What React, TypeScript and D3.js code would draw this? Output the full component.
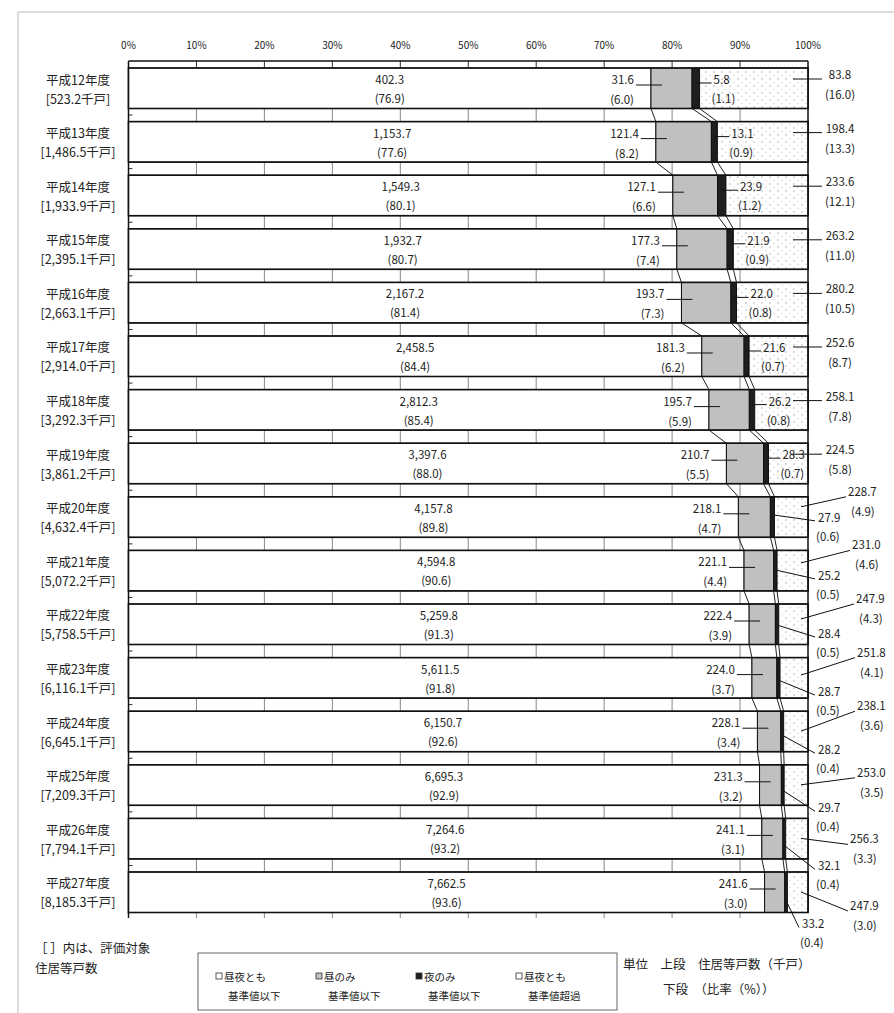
import React from "react";
import * as d3 from "d3";

const years = ["平成12年度","平成13年度","平成14年度","平成15年度","平成16年度","平成17年度","平成18年度","平成19年度","平成20年度","平成21年度","平成22年度","平成23年度","平成24年度","平成25年度","平成26年度","平成27年度"];
const totals = [523.2,1486.5,1933.9,2395.1,2663.1,2914.0,3292.3,3861.2,4632.4,5072.2,5758.5,6116.1,6645.1,7209.3,7794.1,8185.3];
const bothBelow = [402.3,1153.7,1549.3,1932.7,2167.2,2458.5,2812.3,3397.6,4157.8,4594.8,5259.8,5611.5,6150.7,6695.3,7264.6,7662.5];
const bothBelowPct = [76.9,77.6,80.1,80.7,81.4,84.4,85.4,88.0,89.8,90.6,91.3,91.8,92.6,92.9,93.2,93.6];
const dayOnly = [31.6,121.4,127.1,177.3,193.7,181.3,195.7,210.7,218.1,221.1,222.4,224.0,228.1,231.3,241.1,241.6];
const dayOnlyPct = [6.0,8.2,6.6,7.4,7.3,6.2,5.9,5.5,4.7,4.4,3.9,3.7,3.4,3.2,3.1,3.0];
const nightOnly = [5.8,13.1,23.9,21.9,22.0,21.6,26.2,28.3,27.9,25.2,28.4,28.7,28.2,29.7,32.1,33.2];
const nightOnlyPct = [1.1,0.9,1.2,0.9,0.8,0.7,0.8,0.7,0.6,0.5,0.5,0.5,0.4,0.4,0.4,0.4];
const bothAbove = [83.8,198.4,233.6,263.2,280.2,252.6,258.1,224.5,228.7,231.0,247.9,251.8,238.1,253.0,256.3,247.9];
const bothAbovePct = [16.0,13.3,12.1,11.0,10.5,8.7,7.8,5.8,4.9,4.6,4.3,4.1,3.6,3.5,3.3,3.0];
const tickValues = [0,0.1,0.2,0.3,0.4,0.5,0.6,0.7,0.8,0.9,1];
const legendItems = [["昼夜とも","基準値以下"],["昼のみ","基準値以下"],["夜のみ","基準値以下"],["昼夜とも","基準値超過"]];

const FONT = "'Noto Sans CJK JP', 'Noto Sans', sans-serif";
const fillFor = ["#ffffff", "#c0c0c0", "#1e1e1e", "url(#dots)"];

export default function App() {
  const x = d3.scaleLinear().domain([0, 1]).range([128.5, 808]);
  const y = d3.scaleBand<string>().domain(years).range([68, 912.5]).paddingInner(0.2444).paddingOuter(0);
  const bw = y.bandwidth();
  const fmtV = d3.format(",.1f");
  const fmtP = (p: number) => "(" + d3.format(".1f")(p) + ")";
  const axisTop = 61;
  const axisBottom = 918;

  const rows = years.map((yr, i) => {
    const t = totals[i];
    const vals = [bothBelow[i], dayOnly[i], nightOnly[i], bothAbove[i]];
    const cum = [0];
    vals.forEach((v) => cum.push(cum[cum.length - 1] + v / t));
    cum[4] = 1;
    return { yr, i, t, vals, cum, top: y(yr) as number, bot: (y(yr) as number) + bw };
  });

  const textProps = { fontFamily: FONT, fontSize: 11.5, fill: "#222" } as const;

  return (
    <svg width={894} height={1013} style={{ position: "absolute", left: 0, top: 0, background: "#fff" }}>
      <defs>
        <pattern id="dots" width={8} height={7} patternUnits="userSpaceOnUse">
          <rect width={8} height={7} fill="#fff" />
          <circle cx={2} cy={2} r={0.8} fill="#b0b0b0" />
          <circle cx={6} cy={5.5} r={0.7} fill="#d0d0d0" />
        </pattern>
      </defs>
      {/* frame */}
      <line x1={18} y1={12} x2={894} y2={12} stroke="#cfcfcf" strokeWidth={1.5} />
      <line x1={18} y1={12} x2={18} y2={1013} stroke="#cfcfcf" strokeWidth={1.5} />

      {/* top tick labels */}
      {tickValues.map((v) => (
        <text key={"tl" + v} x={x(v)} y={44} textAnchor="middle" dominantBaseline="central" fontFamily={FONT} fontSize={10} fill="#222">
          {d3.format(".0%")(v)}
        </text>
      ))}

      {/* gap bands ticks */}
      {d3.range(-1, 16).map((g) => {
        const y0 = g < 0 ? axisTop : rows[g].bot;
        const y1 = g === 15 ? axisBottom : rows[g + 1].top;
        return (
          <g key={"gap" + g}>
            {tickValues.slice(1, 10).map((v) => (
              <line key={v} x1={x(v)} x2={x(v)} y1={y0} y2={y1} stroke={g < 0 ? "#333" : "#888"} strokeWidth={1} />
            ))}
            {g >= 0 && g < 15 && <line x1={x(0)} x2={x(0) + 4} y1={(y0 + y1) / 2} y2={(y0 + y1) / 2} stroke="#333" />}
          </g>
        );
      })}
      {/* axes */}
      <line x1={x(0)} x2={x(1)} y1={axisTop} y2={axisTop} stroke="#111" strokeWidth={1.5} />
      <line x1={x(0)} x2={x(0)} y1={axisTop} y2={axisBottom} stroke="#111" strokeWidth={1.5} />
      <line x1={x(1)} x2={x(1)} y1={axisTop} y2={rows[15].bot} stroke="#111" strokeWidth={1.5} />

      {/* series connector lines */}
      {rows.slice(0, 15).map((r, i) => (
        <g key={"con" + i}>
          {[1, 2, 3].map((k) => (
            <line key={k} x1={x(r.cum[k])} y1={r.bot} x2={x(rows[i + 1].cum[k])} y2={rows[i + 1].top} stroke="#222" strokeWidth={1} />
          ))}
        </g>
      ))}

      {/* bars */}
      {rows.map((r) => (
        <g key={"bar" + r.i}>
          {r.vals.map((v, k) => (
            <rect key={k} x={x(r.cum[k])} y={r.top} width={x(r.cum[k + 1]) - x(r.cum[k])} height={bw} fill={fillFor[k]} stroke="#111" strokeWidth={1} />
          ))}
          <rect x={x(0)} y={r.top} width={x(1) - x(0)} height={bw} fill="none" stroke="#111" strokeWidth={1.6} />
        </g>
      ))}

      {/* category labels */}
      {rows.map((r) => (
        <g key={"cat" + r.i} fontFamily={FONT} fontSize={12.5} fill="#222" textAnchor="middle">
          <text x={78} y={r.top + 11} dominantBaseline="central">{r.yr}</text>
          <text x={78} y={r.top + 30} dominantBaseline="central">{"[" + fmtV(r.t) + "千戸]"}</text>
        </g>
      ))}

      {/* data labels */}
      {rows.map((r) => {
        const i = r.i;
        const c1 = x(r.cum[1]);
        const mid1 = (x(0) + c1) / 2;
        const blackMid = (x(r.cum[2]) + x(r.cum[3])) / 2;
        const blackRight = x(r.cum[3]);
        const inside = i < 8;
        const l3x = inside ? blackRight + 14 : x(1) + 10 - (i === 15 ? 16 : 0);
        const l3y = inside ? r.top + 11 : r.top + 20 + (i - 8) * 4.5;
        const l4x = inside ? x(1) + 32 : i <= 13 ? Math.min(848 + (i - 8) * 4, 857) : 850;
        const l4y = inside ? r.top + 6 : r.top - 6 + Math.max(0, i - 12) * 13;
        return (
          <g key={"lab" + i} {...textProps}>
            <text x={mid1} y={r.top + 11} textAnchor="middle" dominantBaseline="central">{fmtV(bothBelow[i])}</text>
            <text x={mid1} y={r.top + 30} textAnchor="middle" dominantBaseline="central">{fmtP(bothBelowPct[i])}</text>

            <text x={c1 - 17} y={r.top + 11} textAnchor="end" dominantBaseline="central">{fmtV(dayOnly[i])}</text>
            <text x={c1 - 17} y={r.top + 31} textAnchor="end" dominantBaseline="central">{fmtP(dayOnlyPct[i])}</text>
            <line x1={c1 - 15} x2={c1 + 11} y1={r.top + 17} y2={r.top + 17} stroke="#111" />

            <text x={l3x} y={l3y} textAnchor="start" dominantBaseline="central">{fmtV(nightOnly[i])}</text>
            <text x={l3x - 2} y={l3y + 19} textAnchor="start" dominantBaseline="central">{fmtP(nightOnlyPct[i])}</text>
            {inside ? (
              <line x1={blackMid} x2={l3x - 2} y1={r.top + 15} y2={r.top + 15} stroke="#111" />
            ) : (
              <line x1={blackMid} y1={r.top + 18 + (i - 8) * 1.5} x2={l3x - 3} y2={l3y + 4} stroke="#111" />
            )}

            <text x={l4x} y={l4y} textAnchor={inside ? "middle" : "start"} dominantBaseline="central">{fmtV(bothAbove[i])}</text>
            <text x={inside ? l4x : l4x + 3} y={l4y + 20} textAnchor={inside ? "middle" : "start"} dominantBaseline="central">{fmtP(bothAbovePct[i])}</text>
            {inside ? (
              <line x1={x(1) - 15} x2={x(1) + 14} y1={r.top + 11} y2={r.top + 11} stroke="#111" />
            ) : (
              <line x1={x(1) - 7} y1={r.top + 10 + Math.min(10, (i - 8) * 2.5)} x2={l4x - 2} y2={l4y + 6} stroke="#111" />
            )}
          </g>
        );
      })}

      {/* notes */}
      <g fontFamily={FONT} fontSize={12.5} fill="#222">
        <text x={35} y={947} dominantBaseline="central">［ ］内は、評価対象</text>
        <text x={35} y={967} dominantBaseline="central">住居等戸数</text>
      </g>

      {/* legend */}
      <rect x={198} y={953} width={419} height={57} fill="#fff" stroke="#666" strokeWidth={1} />
      {legendItems.map((it, k) => {
        const lx = 216 + k * 100;
        return (
          <g key={"leg" + k} fontFamily={FONT} fontSize={10.5} fill="#222">
            <rect x={lx} y={973} width={6} height={6} fill={k === 3 ? "#fff" : fillFor[k]} stroke="#333" strokeWidth={0.8} />
            <text x={lx + 8} y={976.5} dominantBaseline="central">{it[0]}</text>
            <text x={lx + 12} y={995} dominantBaseline="central">{it[1]}</text>
          </g>
        );
      })}
      <g fontFamily={FONT} fontSize={12.5} fill="#222">
        <text x={623} y={963} dominantBaseline="central">単位　上段　住居等戸数（千戸）</text>
        <text x={663} y={988} dominantBaseline="central">下段　（比率（%））</text>
      </g>
    </svg>
  );
}
